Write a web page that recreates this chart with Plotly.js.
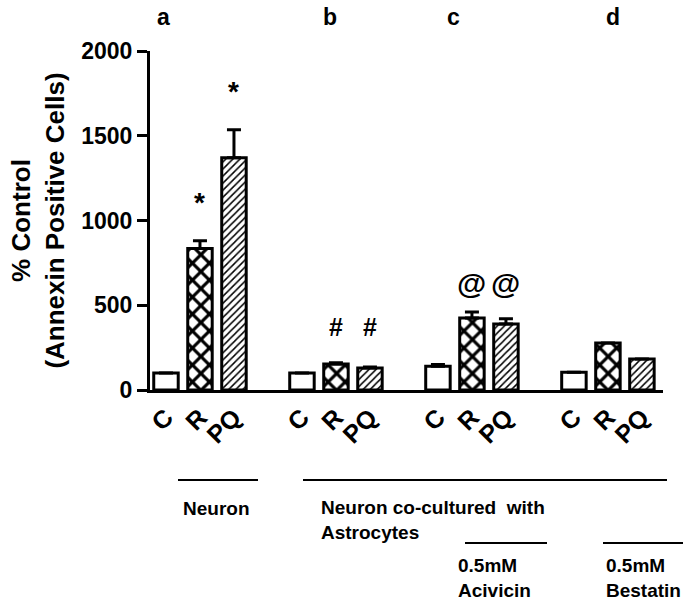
<!DOCTYPE html>
<html>
<head>
<meta charset="utf-8">
<script src="https://cdn.plot.ly/plotly-3.0.1.min.js"></script>
<style>html,body{margin:0;padding:0;background:#fff;}#chart{width:692px;height:607px;}</style>
</head>
<body>
<div id="chart"></div>
<script>
// ---- data ----
const groups = ['a', 'b', 'c', 'd'];
const treatments = ['C', 'R', 'PQ'];
const valC  = [100, 100, 140, 105];
const valR  = [835, 153, 425, 277];
const valPQ = [1370, 130, 390, 183];
const errC  = [0, 0, 10, 0];
const errR  = [45, 8, 35, 0];
const errPQ = [165, 5, 30, 0];
const sigR   = ['*', '#', '@', ''];
const sigPQ  = ['*', '#', '@', ''];
const sigYR  = [1133, 372, 631, null];
const sigYPQ = [1788, 372, 631, null];
const yTicks = [0, 500, 1000, 1500, 2000];
const groupNotes = ['Neuron', 'Neuron co-cultured  with<br>Astrocytes', '0.5mM<br>Acivicin', '0.5mM<br>Bestatin'];

// ---- layout helpers ----
const FONT = 'Liberation Sans, Arial, sans-serif';
const L = 150, R = 663, T = 51, B = 390;
const px = x => (x - L) / (R - L);
const py = y => (B - y) / (B - T);
const slot = (gi, ti) => gi * 4 + ti;

const xsFor = ti => groups.map((g, gi) => slot(gi, ti));
const vals = [valC, valR, valPQ];
const errs = [errC, errR, errPQ];
const patterns = [
  {shape: ''},
  {shape: 'x', fgcolor: '#000', bgcolor: '#fff', size: 12, solidity: 0.45},
  {shape: '/', fgcolor: '#000', bgcolor: '#fff', size: 5, solidity: 0.3}
];

const traces = treatments.map((t, ti) => ({
  type: 'bar',
  name: t,
  x: xsFor(ti),
  y: vals[ti],
  width: 0.72,
  marker: {color: '#fff', line: {color: '#000', width: 3}, pattern: patterns[ti]},
  error_y: {type: 'data', symmetric: false, array: errs[ti], arrayminus: errs[ti].map(() => 0),
            color: '#000', thickness: 3, width: 7, visible: true},
  showlegend: false,
  hoverinfo: 'x+y'
}));

const tickvals = [], ticktext = [];
groups.forEach((g, gi) => treatments.forEach((t, ti) => { tickvals.push(slot(gi, ti)); ticktext.push(t); }));

const sigFont = s => ({family: FONT, size: s === '@' ? 30 : (s === '*' ? 28 : 25), weight: 'bold', color: '#000'});
const annotations = [];
// significance marks
groups.forEach((g, gi) => {
  if (sigR[gi]) annotations.push({x: slot(gi, 1), y: sigYR[gi], xref: 'x', yref: 'y', text: sigR[gi], showarrow: false,
    font: sigFont(sigR[gi]), yanchor: 'middle', yshift: sigR[gi] === '*' ? -5 : 0});
  if (sigPQ[gi]) annotations.push({x: slot(gi, 2), y: sigYPQ[gi], xref: 'x', yref: 'y', text: sigPQ[gi], showarrow: false,
    font: sigFont(sigPQ[gi]), yanchor: 'middle', yshift: sigPQ[gi] === '*' ? -5 : 0});
});
// panel letters
const letterX = [163, 330, 453, 613];
groups.forEach((g, gi) => annotations.push({x: px(letterX[gi]), y: py(17), xref: 'paper', yref: 'paper', text: g,
  showarrow: false, xanchor: 'center', yanchor: 'middle', font: {family: FONT, size: 23, weight: 'bold', color: '#000'}}));
// group notes
const noteXY = [[181, 508], [319, 520], [456, 578], [604, 578]];
groupNotes.forEach((n, i) => annotations.push({x: px(noteXY[i][0]), y: py(noteXY[i][1]), xref: 'paper', yref: 'paper', text: n,
  showarrow: false, xanchor: 'left', yanchor: 'middle', align: 'left',
  font: {family: FONT, size: 19, weight: 'bold', color: '#000'}}));

const lineSeg = (x0, x1, y) => ({type: 'line', xref: 'paper', yref: 'paper', x0: px(x0), x1: px(x1), y0: py(y), y1: py(y),
  line: {color: '#000', width: 2}});
const shapes = [lineSeg(178, 258, 480), lineSeg(303, 667, 480), lineSeg(465, 547, 543), lineSeg(603, 683, 543)];

const layout = {
  width: 692, height: 607,
  margin: {l: L, r: 692 - R, t: T, b: 607 - B, pad: 0},
  paper_bgcolor: '#fff', plot_bgcolor: '#fff',
  barmode: 'overlay',
  font: {family: FONT, color: '#000'},
  xaxis: {range: [-0.47, 14.62], showline: true, linewidth: 3, linecolor: '#000', ticks: '',
    tickvals: tickvals, ticktext: ticktext, tickangle: -45, showgrid: false, zeroline: false,
    tickfont: {family: FONT, size: 25, weight: 'bold', color: '#000'}, automargin: false},
  yaxis: {range: [0, 2000], tickvals: yTicks, ticktext: yTicks.map(String), ticks: 'outside', ticklen: 10, tickwidth: 3,
    tickcolor: '#000', showline: true, linewidth: 3, linecolor: '#000', showgrid: false, zeroline: false,
    tickfont: {family: FONT, size: 23, weight: 'bold', color: '#000'}, automargin: false,
    title: {text: '% Control<br>(Annexin Positive Cells)', font: {family: FONT, size: 26, weight: 'bold', color: '#000'}, standoff: 10}},
  annotations: annotations,
  shapes: shapes
};

Plotly.newPlot('chart', traces, layout, {displayModeBar: false, staticPlot: true});
</script>
</body>
</html>
